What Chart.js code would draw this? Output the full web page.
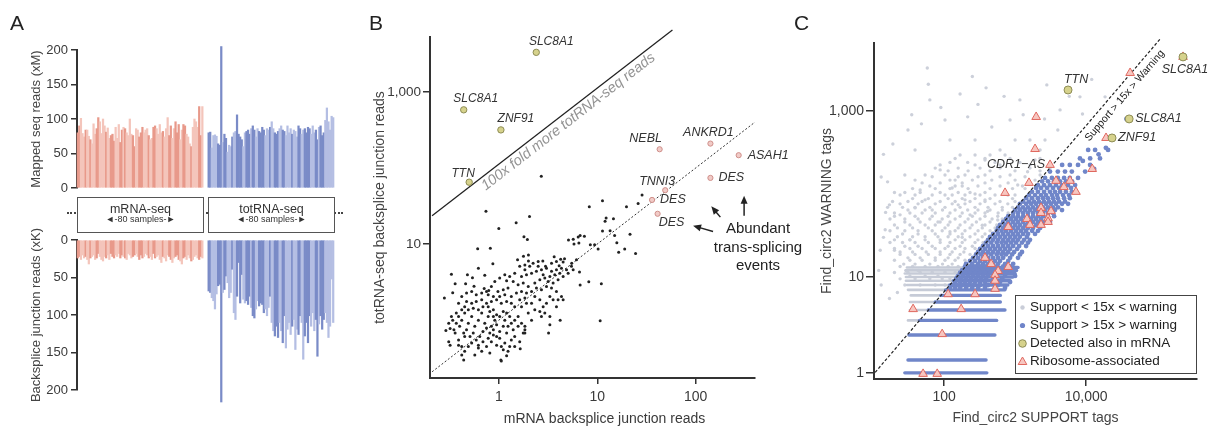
<!DOCTYPE html>
<html>
<head>
<meta charset="utf-8">
<title>circRNA detection: mRNA-seq vs totRNA-seq</title>
<script src="https://cdn.jsdelivr.net/npm/chart.js@4.4.1/dist/chart.umd.min.js"></script>
<style>
  body { margin: 0; background: #fff; }
  #page { position: relative; width: 1213px; height: 432px; overflow: hidden; font-family: 'Liberation Sans', Arial, sans-serif; }
  canvas { position: absolute; left: 0; top: 0; }
  .letter { position: absolute; top: 12px; font-size: 21px; line-height: 1; color: #222; }
  #dots { position: absolute; left: 67px; top: 212px; width: 276px; border-top: 2px dotted #444; }
  .box { position: absolute; top: 197px; width: 127px; height: 36px; box-sizing: border-box; border: 1px solid #555; background: #fff; }
  .boxt { position: absolute; width: 127px; text-align: center; line-height: 1; color: #333; }
</style>
</head>
<body>
<div id="page">
  <canvas id="aTop" width="1213" height="432"></canvas>
  <canvas id="aBottom" width="1213" height="432"></canvas>
  <canvas id="bChart" width="1213" height="432"></canvas>
  <canvas id="cChart" width="1213" height="432"></canvas>

  <div class="letter" style="left:10px">A</div>
  <div class="letter" style="left:369px">B</div>
  <div class="letter" style="left:794px">C</div>

  <div id="dots"></div>
  <div class="box" style="left:77px"></div>
  <div class="box" style="left:208px"></div>
  <div class="boxt" style="left:77px;top:202.7px;font-size:12.5px">mRNA-seq</div>
  <div class="boxt" style="left:77px;top:215px;font-size:9px">◄-80 samples-►</div>
  <div class="boxt" style="left:208px;top:202.7px;font-size:12.5px">totRNA-seq</div>
  <div class="boxt" style="left:208px;top:215px;font-size:9px">◄-80 samples-►</div>
</div>

<script>
"use strict"

// ---------- panel A: per sample read counts ----------
const mrnaMapped = [80, 90, 101, 79, 74, 84, 84, 75, 70, 64, 93, 78, 86, 102, 96, 79, 100, 90, 81, 87,
  72, 76, 78, 68, 88, 72, 92, 66, 84, 88, 86, 80, 76, 100, 78, 76, 60, 86, 84, 74,
  80, 88, 80, 84, 86, 76, 70, 72, 88, 90, 86, 78, 92, 80, 82, 74, 86, 102, 76, 90,
  72, 86, 96, 80, 92, 70, 84, 92, 90, 78, 74, 64, 60, 88, 100, 96, 88, 118, 76, 118];
const totMapped = [80, 81, 58, 76, 77, 75, 64, 62, 205, 66, 78, 72, 52, 62, 60, 74, 80, 82, 106, 78,
  74, 70, 60, 80, 82, 84, 78, 86, 90, 84, 74, 86, 82, 80, 88, 84, 76, 86, 84, 88,
  96, 86, 80, 78, 82, 86, 90, 84, 82, 76, 90, 80, 86, 78, 84, 82, 74, 90, 86, 78,
  84, 86, 80, 88, 86, 78, 90, 80, 84, 70, 88, 90, 76, 80, 98, 116, 96, 84, 104, 102];
const mrnaBacksplice = [24, 22, 26, 20, 24, 22, 26, 32, 24, 22, 20, 26, 24, 18, 22, 26, 28, 22, 24, 20,
  26, 18, 22, 24, 20, 22, 18, 24, 20, 22, 24, 26, 18, 20, 24, 22, 20, 18, 22, 26,
  20, 24, 22, 18, 20, 24, 22, 26, 18, 24, 22, 20, 26, 30, 22, 24, 28, 20, 22, 26,
  30, 24, 22, 20, 26, 28, 32, 24, 22, 26, 20, 24, 28, 26, 22, 20, 24, 26, 22, 24];
const totBacksplice = [68, 70, 77, 81, 92, 72, 61, 59, 216, 70, 66, 48, 57, 77, 70, 39, 97, 106, 75, 30,
  84, 46, 79, 84, 81, 86, 75, 90, 101, 104, 92, 81, 88, 84, 86, 97, 92, 101, 90, 75,
  110, 121, 128, 115, 130, 110, 121, 137, 101, 144, 119, 110, 126, 115, 106, 146, 119, 126, 101, 110,
  159, 128, 110, 137, 101, 115, 97, 121, 106, 155, 112, 101, 119, 106, 97, 110, 130, 115, 52, 110];
const aTicks = [0, 50, 100, 150, 200];
// light / dark batches (run lengths, starting dark)
const mrnaRuns = [2, 3, 1, 2, 1, 3, 2, 4, 1, 2, 3, 3, 2, 1, 1, 4, 2, 2, 3, 3, 1, 2, 2, 4, 1, 3, 2, 2, 3, 2, 2, 3, 1, 4, 2, 2];
const totRuns = [2, 4, 3, 1, 2, 3, 1, 2, 4, 2, 3, 1, 2, 2, 4, 3, 1, 2, 3, 2, 2, 4, 1, 3, 2, 2, 4, 3, 2, 1, 3, 2];

// ---------- panel B: backsplice reads, [mRNA, totRNA] ----------
const bOtherReads = [
  [2.7,78],[0.74,27],[1.5,19],[2.05,23],[1.0,16],[1.8,12.5],[1.95,11.5],[8.3,31],[11.3,37],[19.8,31],
  [26,34],[28.5,44],[12.3,22],[14.6,21.5],[12,20],[11.3,14.8],[13.5,15],[15,13],[21.5,13.5],[16.5,7.8],
  [19,8.6],[24.5,7.5],[9.4,9.8],[10.2,8.6],[8.5,9.8],[5.1,11.3],[5.7,11.6],[6.4,12.4],[6.7,13],[7.4,12.7],
  [5.8,10],[6.5,10.3],[0.61,8.7],[0.82,8.8],[0.87,5.5],[0.62,4.8],[0.33,4.0],[0.48,3.95],[0.54,3.6],[0.72,3.9],
  [0.36,3.0],[0.46,3.0],[0.56,2.8],[0.28,1.95],[0.34,2.3],[0.71,2.6],[0.79,2.45],[1.2,3.3],[1.55,6.2],[1.78,6.9],
  [2.0,6.0],[2.0,7.2],[2.8,6.0],[3.65,6.8],[4.25,6.3],[4.65,6.4],[4.5,5.8],[4.1,5.2],[5.5,5.6],[6.6,4.3],
  [6.7,2.9],[8.2,3.2],[11,3.0],[10.7,0.98],[4.2,1.0],[3.3,0.87],[3.2,0.68],[1.65,0.42],[1.05,0.30],[1.06,0.29],
  [0.44,0.30],[1.2,0.34],[0.42,0.35],[0.32,0.47],[0.31,0.52],[0.29,0.73],[0.32,0.78],[15.8,10.4],
  [0.39,1.12],[0.42,1.0],[0.45,1.24],[0.49,0.91],[0.53,1.12],[0.57,0.83],[0.62,1.0],[0.67,1.24],[0.72,0.91],[0.78,1.12],
  [0.84,0.83],[0.91,1.0],[0.40,0.83],[0.44,0.68],[0.47,0.75],[0.51,0.61],[0.55,0.68],[0.59,0.55],[0.64,0.61],[0.69,0.71],
  [0.75,0.79],[0.81,0.68],[0.88,0.75],[0.95,0.87],[0.39,0.55],[0.36,0.68],[0.37,0.91],[0.34,1.0],[0.45,1.5],[0.49,1.37],
  [0.55,1.44],[0.62,1.37],[0.69,1.5],[0.78,1.5],[0.88,1.37],[0.95,1.18],[1.02,1.12],[1.11,1.3],[1.2,1.24],[1.29,1.12],
  [1.15,1.0],[1.24,0.83],[1.34,0.91],[1.45,1.0],[1.57,1.12],[1.7,0.91],[1.84,0.75],[1.77,0.68],[1.57,0.83],[1.4,0.75],
  [0.53,0.5],[0.62,0.43],[0.67,0.39],[0.75,0.45],[0.84,0.52],[1.02,0.58],[1.15,0.5],[1.06,0.45],[1.24,0.39],[1.29,0.45],
  [1.11,0.41],[0.42,0.45],[0.45,0.39],[0.57,0.35],[0.62,0.47],[0.81,0.37],[0.39,0.47],[0.35,0.75],[0.37,1.24],[0.42,1.37],
  [0.47,1.76],[0.53,1.67],[0.59,1.76],[0.67,1.85],[0.75,1.67],[0.84,1.76],[0.95,1.85],[1.06,1.67],[1.2,1.76],[1.34,1.67],
  [1.45,1.5],[1.63,1.85],[1.84,1.95],[2.15,1.67],[2.32,2.05],[2.61,1.85],[2.82,1.5],[3.05,1.67],[3.3,2.05],[3.56,1.85],
  [3.85,1.5],[1.34,2.05],[1.15,2.16],[1.02,2.05],[0.88,2.05],[0.78,2.16],[1.51,2.27],[1.7,2.38],[1.91,2.27],[2.15,2.38],
  [2.41,2.64],[2.71,2.51],[3.05,2.77],[3.43,2.64],[3.85,2.38],[4.33,2.05],[4.0,1.85],[4.5,1.85],[2.32,3.07],[2.61,3.4],
  [2.93,3.57],[3.3,3.75],[3.7,3.95],[4.16,4.15],[1.99,2.77],[1.77,3.07],[1.57,2.92],[1.4,3.23],[1.24,2.64],[1.11,2.51],
  [0.98,2.38],[1.7,3.75],[1.91,3.95],[2.15,4.15],[2.41,4.4],[2.71,4.6],[3.05,4.8],[3.43,4.4],[3.85,4.6],[4.33,4.8],
  [4.87,4.6],[5.47,5.1],[1.84,4.6],[2.06,5.1],[2.51,5.1],[2.82,3.95],[3.17,3.23],[3.56,3.07],[4.0,3.4],[4.5,3.75],
  [5.06,4.15],[5.69,4.6],[6.15,6.2],[3.85,5.9],[3.43,5.6],[2.98,5.1],[2.51,5.9],[2.23,5.6],[1.84,5.3],[1.63,5.1],
  [1.45,4.15],[1.29,3.75],[1.15,3.95],[1.02,3.57],[0.91,3.23],[0.84,2.77],[0.75,2.38],[0.67,2.27],[0.59,2.16],[0.53,2.38],
  [0.47,2.27],[0.42,2.05],[1.45,0.61],[1.84,0.83],[2.15,1.0],[2.32,1.37],[2.61,1.3],[2.93,1.24],[3.3,1.12],[1.99,1.24],
  [2.71,1.12],[1.7,1.5],[1.91,1.67],[0.88,1.12],[0.81,1.3],[0.33,1.12],[0.31,0.91],[0.39,1.67],[1.11,0.83],[1.02,0.71],
  [0.95,0.61],[1.2,0.68],[1.34,0.55],[1.45,0.45],[1.63,0.52],[1.84,0.68],[0.45,0.61],[0.49,0.45],[0.69,0.52],[0.78,0.58],
  [0.88,0.64],[0.95,0.47]
];
const bAlsoInMrna = [[2.4, 3300], [0.44, 580], [1.05, 316], [0.5, 65]];
const bAlsoInMrnaNames = ['SLC8A1', 'SLC8A1', 'ZNF91', 'TTN'];
const bTransSplice = [[43, 176], [141, 209], [273, 147], [141, 74], [49, 51], [36, 38], [41, 25]];
const bTransSpliceNames = ['NEBL', 'ANKRD1', 'ASAH1', 'DES', 'TNNI3', 'DES', 'DES'];
const bFoldLine = [[0.21, 23.5], [58, 6500]];
const bEqualLine = [[0.21, 0.21], [400, 400]];
const bXTicks = [1, 10, 100];
const bXTickLabels = ['1', '10', '100'];
const bYTicks = [10, 1000];
const bYTickLabels = ['10', '1,000'];

// ---------- panel C: find_circ2 tags, [SUPPORT, WARNING] ----------
const cLowSupport = [
  [58,3300],[168,1600],[390,1900],[2800,2060],[8200,1480],[18500,1480],[8900,920],[4000,590],[614,339],[377,257],
  [273,447],[103,779],[39,339],[28,169],[17,74],[24,56],[46,112],[88,195],[143,147],[197,85],
  [850,780],[1620,447],[2250,339],[4300,1030],[1170,1360],[63,1360],[121,447],[33,28],[20,21],[16,140],
  [20,104],[31,590],[215,850],[470,640],[1000,447],[3100,240],[2640,447],[377,85],[12.6,21],[14.8,37],
  [14,300],[13,160],[15,60],[12,12],[13,8],[17,5.5],[14,30],[22,6.5],[19,400],[48,700],
  [90,1100],[300,1200],[700,1500],[1300,900],[2600,800],[5800,1500],[12000,2400],[250,2600],[60,2100],[35,900],
  [168,295],[273,295],[444,295],[722,295],[121,240],[215,240],[522,240],[1170,240],
  [75,205],[158,205],[321,205],[614,205],[1620,205],[54,169],[103,169],[197,169],[377,169],[850,169],
  [39,147],[121,147],[250,147],[470,147],[1000,147],[1910,147],[63,125],[143,125],[180,125],[300,125],[614,125],[1270,125],
  [28,104],[46,104],[88,104],[158,104],[232,104],[377,104],[722,104],[36,88],[60,88],[114,88],[180,88],[273,88],[444,88],[920,88],
  [24,76],[43,76],[75,76],[130,76],[197,76],[321,76],[522,76],[790,76],[31,64],[54,64],[95,64],[143,64],[215,64],[300,64],[444,64],[660,64],
  [20,54],[39,54],[68,54],[114,54],[168,54],[250,54],[377,54],[570,54],[28,46],[46,46],[82,46],[121,46],[197,46],[285,46],[444,46],
  [22,39],[36,39],[60,39],[103,39],[158,39],[232,39],[345,39],[522,39],[26,33],[43,33],[75,33],[121,33],[180,33],[273,33],[377,33],
  [20,28],[33,28],[54,28],[88,28],[143,28],[197,28],[300,28],[28,23.5],[43,23.5],[68,23.5],[114,23.5],[168,23.5],[250,23.5],
  [24,20],[36,20],[56,20],[88,20],[130,20],[190,20],[31,17],[46,17],[75,17],[114,17],[158,17],
  [27,14.3],[39,14.3],[63,14.3],[95,14.3],[130,14.3],[29,12],[43,12],[68,12],[103,12],[33,10.3],[54,10.3],[82,10.3],
  [103,97],[158,74],[232,56],[345,42],[121,35],[180,30],[88,46],[68,64],[54,85],[39,68],
  [130,118],[273,100],[410,62],[570,48.6],[790,97],[1090,128],[1500,185],[2250,169],[3100,205],[1910,257],
  [143,268],[377,268],[849,268],[2246,268],[88,224],[273,224],[614,224],[1624,224],
  [114,190],[218,190],[444,190],[998,190],[2246,190],[68,161],[158,161],[301,161],[614,161],[1381,161],
  [49,136],[88,136],[180,136],[377,136],[798,136],[1524,136],[36,116],[75,116],[121,116],[218,116],[444,116],[920,116],[1381,116],
  [24,97],[39,97],[68,97],[130,97],[197,97],[321,97],[522,97],[998,97],
  [18.8,81],[31,81],[49,81],[88,81],[143,81],[232,81],[377,81],[614,81],[998,81],
  [16,69],[26,69],[39,69],[63,69],[103,69],[168,69],[273,69],[416,69],[660,69],[920,69],
  [20,59],[33,59],[49,59],[75,59],[121,59],[180,59],[273,59],[377,59],[577,59],[798,59],
  [17.3,50],[28,50],[43,50],[63,50],[94,50],[143,50],[218,50],[321,50],[474,50],[660,50],
  [20,42.3],[33,42.3],[54,42.3],[75,42.3],[114,42.3],[168,42.3],[248,42.3],[377,42.3],[552,42.3],
  [17.3,36],[28,36],[43,36],[68,36],[94,36],[143,36],[197,36],[301,36],[444,36],
  [22,30.5],[36,30.5],[54,30.5],[82,30.5],[114,30.5],[158,30.5],[232,30.5],[345,30.5],
  [17.3,26],[26,26],[39,26],[60,26],[88,26],[121,26],[180,26],[273,26],[354,26],
  [20,22],[33,22],[49,22],[75,22],[103,22],[143,22],[197,22],[273,22],
  [24,18.7],[39,18.7],[60,18.7],[88,18.7],[121,18.7],[168,18.7],[232,18.7],
  [20,15.9],[33,15.9],[49,15.9],[75,15.9],[103,15.9],[143,15.9],[197,15.9],
  [24,13.4],[36,13.4],[54,13.4],[82,13.4],[114,13.4],[158,13.4],
  [20,11.3],[31,11.3],[46,11.3],[68,11.3],[103,11.3],[143,11.3],
  [24,9.5],[39,9.5],[63,9.5],[94,9.5],[121,9.5],[28,8.0],[46,8.0],[75,8.0],[103,8.0]
];
const cHighSupport = [
  [10700,339],[13400,339],[20400,339],[8200,268],[11400,268],[15700,268],[4600,224],[5900,224],[7700,224],[11400,224],
  [3100,186],[4000,186],[5050,186],[6300,186],[9700,186],[2640,156],[3300,156],[4000,156],[4900,156],[5900,156],[7700,156],
  [2400,142],[2910,142],[3535,142],[4296,142],[5218,142],[6340,142],
  [2100,128],[2560,128],[3100,128],[3770,128],[4580,128],[5570,128],[7000,128],
  [1973,118],[2320,118],[2820,118],[3422,118],[4160,118],[5052,118],[6140,118],
  [1730,106],[2100,106],[2560,106],[3100,106],[3650,106],[4300,106],[5200,106],[6300,106],
  [1570,97],[1910,97],[2320,97],[2728,97],[3313,97],[3900,97],[4730,97],[5750,97],
  [1430,89],[1730,89],[2100,89],[2480,89],[2900,89],[3420,89],[4000,89],[4900,89],[5900,89],
  [1296,81],[1570,81],[1850,81],[2170,81],[2557,81],[3010,81],[3535,81],[4160,81],[5052,81],
  [1170,76],[1430,76],[1680,76],[1970,76],[2320,76],[2730,76],[3200,76],[3770,76],[4580,76],[5570,76],
  [1103,69],[1296,69],[1524,69],[1790,69],[2106,69],[2476,69],[2911,69],[3422,69],[4026,69],
  [1000,64],[1170,64],[1380,64],[1620,64],[1910,64],[2250,64],[2640,64],[3100,64],[3650,64],[4580,64],
  [940,59],[1100,59],[1300,59],[1520,59],[1790,59],[2100,59],[2480,59],[2910,59],[3420,59],
  [800,54],[940,54],[1100,54],[1300,54],[1520,54],[1790,54],[2100,54],[2480,54],[2910,54],[3540,54],
  [746,50],[878,50],[1032,50],[1213,50],[1428,50],[1678,50],[1973,50],[2320,50],[2820,50],
  [680,46],[800,46],[940,46],[1100,46],[1300,46],[1520,46],[1790,46],[2100,46],[2560,46],[3100,46],
  [614,42.3],[722,42.3],[850,42.3],[1000,42.3],[1170,42.3],[1380,42.3],[1620,42.3],[1970,42.3],[2400,42.3],
  [577,39],[680,39],[800,39],[940,39],[1100,39],[1300,39],[1520,39],[1790,39],[2250,39],
  [552,36],[645,36],[746,36],[878,36],[1032,36],[1213,36],[1428,36],[1733,36],[2106,36],
  [490,33],[577,33],[680,33],[800,33],[940,33],[1100,33],[1300,33],[1520,33],[1910,33],
  [444,30.5],[522,30.5],[614,30.5],[722,30.5],[850,30.5],[1000,30.5],[1170,30.5],[1470,30.5],
  [416,28],[490,28],[577,28],[680,28],[800,28],[940,28],[1100,28],[1340,28],[1620,28],
  [390,26],[460,26],[552,26],[645,26],[746,26],[878,26],[1032,26],[1253,26],[1524,26],
  [354,23.6],[416,23.6],[490,23.6],[577,23.6],[680,23.6],[800,23.6],[940,23.6],[1140,23.6],[1430,23.6],
  [321,21.8],[377,21.8],[444,21.8],[522,21.8],[614,21.8],[722,21.8],[850,21.8],[1070,21.8],
  [301,20],[354,20],[416,20],[490,20],[577,20],[680,20],[800,20],[970,20],[1250,20],
  [282,18.7],[332,18.7],[390,18.7],[460,18.7],[552,18.7],[645,18.7],[746,18.7],[908,18.7],[1174,18.7],
  [256,17],[301,17],[354,17],[416,17],[490,17],[577,17],[680,17],[850,17],[1100,17],
  [232,15.6],[273,15.6],[321,15.6],[377,15.6],[444,15.6],[522,15.6],[614,15.6],[800,15.6],
  [204,14.4],[248,14.4],[301,14.4],[354,14.4],[416,14.4],[490,14.4],[577,14.4],[722,14.4],[940,14.4],
  [197,13.4],[232,13.4],[273,13.4],[321,13.4],[377,13.4],[444,13.4],[552,13.4],[679,13.4],[849,13.4],
  [180,12.1],[211,12.1],[248,12.1],[301,12.1],[354,12.1],[416,12.1],[490,12.1],[614,12.1],[850,12.1],
  [168,11.3],[197,11.3],[232,11.3],[273,11.3],[321,11.3],[377,11.3],[444,11.3],[560,11.3],[746,11.3],
  [158,10.3],[186,10.3],[218,10.3],[256,10.3],[301,10.3],[354,10.3],[416,10.3],[522,10.3],[722,10.3],[1000,10.3],
  [148,9.5],[174,9.5],[204,9.5],[240,9.5],[282,9.5],[332,9.5],[390,9.5],[490,9.5],[660,9.5],
  [143,8.7],[168,8.7],[197,8.7],[232,8.7],[273,8.7],[321,8.7],[377,8.7],[474,8.7],[614,8.7],[850,8.7],
  [130,8.0],[150,8.0],[180,8.0],[218,8.0],[265,8.0],[321,8.0],[416,8.0],[577,8.0],
  [121,7.4],[143,7.4],[168,7.4],[204,7.4],[248,7.4],[301,7.4],[377,7.4],[522,7.4],[722,7.4],
  [37000,800],[15000,300],[19000,360],[13000,200],[9000,250]
];
// rows of low WARNING counts: value, first SUPPORT, 15x cut, last SUPPORT
const cRowWarning = [0.7, 1, 2, 3, 4, 5, 6, 7, 8, 9, 10, 11, 12, 13];
const cRowStart = [28, 31, 32, 31, 33, 33, 34, 31, 30, 29, 29, 28, 29, 30];
const cRowCut = [28, 31, 32, 45, 60, 75, 90, 105, 120, 135, 150, 165, 180, 195];
const cRowEnd = [400, 390, 520, 550, 720, 620, 620, 720, 790, 850, 930, 1000, 1050, 1100];
const cRibosome = [
  [232000,4480],[41700,2870],[1980,847],[1910,348],[19100,473],[3106,224],[12200,200],[1570,136],[722,103],[3770,144],
  [4860,121],[5940,144],[7200,106],[2320,68],[3210,62],[2320,59],[2910,51],[2910,46],[1470,50],[1620,42.4],
  [2320,42.4],[800,40],[377,17],[460,14.3],[800,13.2],[577,11.8],[522,10.6],[522,9.0],[522,7.2],[114,6.2],
  [273,6.2],[36.6,4.1],[174,4.1],[94,2.05],[50.6,0.68],[80,0.68]
];
const cRibosomeNamed = { 5: 'CDR1\u2212AS' };
const cAlsoInMrna = [[5570, 1790], [40400, 802], [23200, 473], [232000, 4480]];
const cAlsoInMrnaNames = ['TTN', 'SLC8A1', 'ZNF91', 'SLC8A1'];
const cCutLine = [[10.7, 0.71], [110000, 7330]];
const cXTicks = [100, 10000];
const cXTickLabels = ['100', '10,000'];
const cYTicks = [0.7, 10, 1000];
const cYTickLabels = ['1', '10', '1,000'];
const cLegendLabels = ['Support < 15x < warning', 'Support > 15x > warning', 'Detected also in mRNA', 'Ribosome-associated'];

// ---------- shared look ----------
const FONT = "'Liberation Sans', Arial, Helvetica, sans-serif";
Chart.defaults.font.family = FONT;
Chart.defaults.font.size = 13;
Chart.defaults.color = '#3a3a3a';

const axisLine = { display: true, color: '#333', width: 2 };
const tickMarks = (len) => ({ display: true, drawOnChartArea: false, drawTicks: true, tickLength: len, color: '#333', lineWidth: 1.5 });
const fixWidth = (w) => (s) => { s.width = w; };
const fixHeight = (h) => (s) => { s.height = h; };
const setTicks = (vals) => (s) => { s.ticks = vals.map(v => ({ value: v })); };
const pts = (arr) => arr.map(p => ({ x: p[0], y: p[1] }));
const baseOptions = (pad) => ({
  responsive: false, animation: false, devicePixelRatio: 1,
  layout: { padding: pad },
  plugins: { legend: { display: false }, tooltip: { enabled: false } }
});

function shades(runs, dark, light, n) {
  const out = [];
  let isDark = true;
  runs.forEach(r => {
    for (let i = 0; i < r && out.length < n; i++) out.push(isDark ? dark : light);
    isDark = !isDark;
  });
  while (out.length < n) out.push(light);
  return out;
}

function tri(ctx, x, y, r) {
  ctx.beginPath();
  ctx.moveTo(x, y - r);
  ctx.lineTo(x + r * 0.866, y + r * 0.5);
  ctx.lineTo(x - r * 0.866, y + r * 0.5);
  ctx.closePath();
  ctx.fill();
  ctx.stroke();
}

function dot(ctx, x, y, r, stroke) {
  ctx.beginPath();
  ctx.arc(x, y, r, 0, Math.PI * 2);
  ctx.fill();
  if (stroke) ctx.stroke();
}

function arrow(ctx, x1, y1, x2, y2) {
  const a = Math.atan2(y2 - y1, x2 - x1);
  ctx.beginPath();
  ctx.moveTo(x1, y1);
  ctx.lineTo(x2 - 5 * Math.cos(a), y2 - 5 * Math.sin(a));
  ctx.stroke();
  ctx.beginPath();
  ctx.moveTo(x2, y2);
  ctx.lineTo(x2 - 8 * Math.cos(a) + 3.5 * Math.sin(a), y2 - 8 * Math.sin(a) - 3.5 * Math.cos(a));
  ctx.lineTo(x2 - 8 * Math.cos(a) - 3.5 * Math.sin(a), y2 - 8 * Math.sin(a) + 3.5 * Math.cos(a));
  ctx.closePath();
  ctx.fill();
}

// text along a line given by two data points, pushed off it by `off` px
function lineText(chart, line, at, text, off, font, color) {
  const { ctx, scales: { x, y } } = chart;
  const x1 = x.getPixelForValue(line[0][0]), y1 = y.getPixelForValue(line[0][1]);
  const x2 = x.getPixelForValue(line[1][0]), y2 = y.getPixelForValue(line[1][1]);
  const a = Math.atan2(y2 - y1, x2 - x1);
  const px = x.getPixelForValue(at[0]) - Math.sin(a) * off;
  const py = y.getPixelForValue(at[1]) + Math.cos(a) * off;
  ctx.save();
  ctx.translate(px, py);
  ctx.rotate(a);
  ctx.font = font;
  ctx.fillStyle = color;
  ctx.textAlign = 'center';
  ctx.textBaseline = 'middle';
  ctx.fillText(text, 0, 0);
  ctx.restore();
}

function pointLabels(chart, points, names, offsets, font) {
  const { ctx, scales: { x, y } } = chart;
  ctx.save();
  ctx.font = font;
  ctx.fillStyle = '#333';
  ctx.textBaseline = 'middle';
  points.forEach((p, i) => {
    if (!names[i]) return;
    const o = offsets[i];
    ctx.textAlign = o[2];
    ctx.fillText(names[i], x.getPixelForValue(p[0]) + o[0], y.getPixelForValue(p[1]) + o[1]);
  });
  ctx.restore();
}

// ---------- panel A ----------
const gap = [null, null, null];
const aSamples = [
  ...mrnaMapped.map((_, i) => 'mRNA ' + (i + 1)), '', ' ', '  ',
  ...totMapped.map((_, i) => 'totRNA ' + (i + 1))
];
const mrnaColors = shades(mrnaRuns, '#e8998a', '#f4c5bb', 80);
const totColors = shades(totRuns, '#7a8bc7', '#b4bee3', 80);
const aColors = [...mrnaColors, '#fff', '#fff', '#fff', ...totColors];

function barChart(id, values, pad, title, reverse) {
  return new Chart(document.getElementById(id), {
    type: 'bar',
    data: {
      labels: aSamples,
      datasets: [{ data: values, backgroundColor: aColors, barPercentage: 1, categoryPercentage: 1, clip: false }]
    },
    options: Object.assign(baseOptions(pad), {
      scales: {
        x: { display: false },
        y: {
          min: 0, max: 200, reverse: reverse,
          afterFit: fixWidth(52), afterBuildTicks: setTicks(aTicks),
          border: axisLine, grid: tickMarks(6),
          ticks: { padding: 3, font: { size: 13 } },
          title: { display: true, text: title, color: '#444', font: { size: 13 } }
        }
      }
    })
  });
}

barChart('aTop', [...mrnaMapped, ...gap, ...totMapped],
  { left: 25, top: 50, right: 879, bottom: 244 }, 'Mapped seq reads (xM)', false);
barChart('aBottom', [...mrnaBacksplice, ...gap, ...totBacksplice],
  { left: 25, top: 240, right: 879, bottom: 42 }, 'Backsplice junction reads (xK)', true);

// ---------- panel B ----------
const bFoundOffsets = [[15, -11, 'center'], [12, -11, 'center'], [15, -11, 'center'], [-6, -9, 'center']];
const bTransOffsets = [[-14, -11, 'center'], [-2, -11, 'center'], [9, 0, 'left'], [8, 0, 'left'],
  [-8, -9, 'center'], [8, 0, 'left'], [14, 9, 'center']];

const bNotes = {
  id: 'bNotes',
  afterDatasetsDraw(chart) {
    const { ctx, scales: { x, y }, chartArea } = chart;
    pointLabels(chart, bAlsoInMrna, bAlsoInMrnaNames, bFoundOffsets, `italic 12px ${FONT}`);
    pointLabels(chart, bTransSplice, bTransSpliceNames, bTransOffsets, `italic 12.5px ${FONT}`);
    lineText(chart, bFoldLine, [4.47, 500], '100x fold more totRNA-seq reads', 9, `italic 14.5px ${FONT}`, '#939393');

    ctx.save();
    ctx.fillStyle = '#222';
    ctx.strokeStyle = '#222';
    ctx.lineWidth = 1.5;
    const P = (vx, vy) => [x.getPixelForValue(vx), y.getPixelForValue(vy)];
    let a = P(150, 14.6), b = P(94, 17.4);
    arrow(ctx, a[0], a[1], b[0], b[1]);
    a = P(178, 22.6); b = P(144, 31.3);
    arrow(ctx, a[0], a[1], b[0], b[1]);
    a = P(310, 23.6); b = P(310, 43);
    arrow(ctx, a[0], a[1], b[0], b[1]);

    ctx.font = `15px ${FONT}`;
    ctx.textAlign = 'center';
    ctx.textBaseline = 'middle';
    const t = P(400, 16);
    ctx.fillText('Abundant', t[0] + 3, t[1]);
    ctx.fillText('trans-splicing', t[0] + 3, t[1] + 19);
    ctx.fillText('events', t[0] + 3, t[1] + 37.5);

    ctx.fillStyle = '#3a3a3a';
    ctx.font = `14px ${FONT}`;
    ctx.fillText('mRNA backsplice junction reads', (chartArea.left + chartArea.right) / 2 + 12, 419);
    ctx.restore();
  }
};

new Chart(document.getElementById('bChart'), {
  type: 'scatter',
  data: {
    datasets: [
      { data: pts(bAlsoInMrna), pointRadius: 3.2, backgroundColor: '#d6d28c', borderColor: '#8d8c55', borderWidth: 1, order: 0 },
      { data: pts(bTransSplice), pointRadius: 2.6, backgroundColor: '#f1cbc7', borderColor: '#cf8f8a', borderWidth: 1, order: 1 },
      { data: pts(bOtherReads), pointRadius: 1.5, backgroundColor: '#222', borderWidth: 0, order: 2 },
      { data: pts(bFoldLine), showLine: true, pointRadius: 0, borderColor: '#222', borderWidth: 1.3, clip: false, order: 3 },
      { data: pts(bEqualLine), showLine: true, pointRadius: 0, borderColor: '#333', borderWidth: 1, borderDash: [2, 2], clip: false, order: 3 }
    ]
  },
  options: Object.assign(baseOptions({ left: 368, top: 37, right: 458, bottom: 1 }), {
    scales: {
      x: {
        type: 'logarithmic', min: 0.2, max: 400, bounds: 'data',
        afterFit: fixHeight(53), afterBuildTicks: setTicks(bXTicks),
        border: axisLine, grid: tickMarks(6),
        ticks: { callback: (v, i) => bXTickLabels[i], padding: 5, maxRotation: 0, autoSkip: false, font: { size: 14 } }
      },
      y: {
        type: 'logarithmic', min: 0.174, max: 5250, bounds: 'data',
        afterFit: fixWidth(62), afterBuildTicks: setTicks(bYTicks),
        border: axisLine, grid: tickMarks(7),
        ticks: { callback: (v, i) => bYTickLabels[i], padding: 2, autoSkip: false, font: { size: 13.5 } },
        title: { display: true, text: 'totRNA-seq backsplice junction reads', color: '#444', font: { size: 14 } }
      }
    }
  }),
  plugins: [bNotes]
});

// ---------- panel C ----------
const cFoundOffsets = [[8, -10, 'center'], [6, 0, 'left'], [6, 0, 'left'], [2, 13, 'center']];
const cRiboOffsets = { 5: [-5, 0, 'right'] };

const cNotes = {
  id: 'cNotes',
  afterDatasetsDraw(chart) {
    const { ctx, chartArea } = chart;
    pointLabels(chart, cAlsoInMrna, cAlsoInMrnaNames, cFoundOffsets, `italic 12.5px ${FONT}`);
    pointLabels(chart, cRibosome, cRibosome.map((_, i) => cRibosomeNamed[i]),
      cRibosome.map((_, i) => cRiboOffsets[i] || [0, 0, 'left']), `italic 12.5px ${FONT}`);
    lineText(chart, cCutLine, [27400, 1827], 'Support > 15x > Warning', 10, `10.5px ${FONT}`, '#222');

    // legend box
    const L = chartArea.right - 182, T = chartArea.bottom - 84, W = 182, H = 79;
    ctx.save();
    ctx.fillStyle = '#fff';
    ctx.fillRect(L, T, W, H);
    ctx.strokeStyle = '#444';
    ctx.lineWidth = 1;
    ctx.strokeRect(L + 0.5, T + 0.5, W - 1, H - 1);
    const rowY = (i) => T + 12.5 + i * 18;
    ctx.fillStyle = '#c9cdd8'; dot(ctx, L + 7.5, rowY(0), 2.2, false);
    ctx.fillStyle = '#6f84c9'; dot(ctx, L + 7.5, rowY(1), 2.6, false);
    ctx.fillStyle = '#d6d28c'; ctx.strokeStyle = '#8d8c55'; dot(ctx, L + 7.5, rowY(2), 3.8, true);
    ctx.fillStyle = '#f7c6c0'; ctx.strokeStyle = '#e0685f'; tri(ctx, L + 7.5, rowY(3) + 0.5, 5);
    ctx.fillStyle = '#222';
    ctx.font = `13.5px ${FONT}`;
    ctx.textAlign = 'left';
    ctx.textBaseline = 'middle';
    cLegendLabels.forEach((t, i) => ctx.fillText(t, L + 15, rowY(i)));
    ctx.restore();
  }
};

const cRows = [];
cRowWarning.forEach((w, i) => {
  if (cRowCut[i] > cRowStart[i]) {
    cRows.push({ data: [{ x: cRowStart[i], y: w }, { x: cRowCut[i], y: w }], showLine: true, pointRadius: 0,
      borderColor: '#c6cbd7', borderWidth: 2.6, borderCapStyle: 'round', order: 5 });
  }
  cRows.push({ data: [{ x: cRowCut[i], y: w }, { x: cRowEnd[i], y: w }], showLine: true, pointRadius: 0,
    borderColor: '#7086c9', borderWidth: 3.4, borderCapStyle: 'round', order: 3 });
});

new Chart(document.getElementById('cChart'), {
  type: 'scatter',
  data: {
    datasets: [
      { data: pts(cAlsoInMrna), pointRadius: 4, backgroundColor: '#d6d28c', borderColor: '#8d8c55', borderWidth: 1, order: 0, clip: false },
      { data: pts(cRibosome), pointStyle: 'triangle', pointRadius: 5, backgroundColor: '#f7c6c0', borderColor: '#e0685f', borderWidth: 1, order: 1, clip: false },
      { data: pts(cCutLine), showLine: true, pointRadius: 0, borderColor: '#222', borderWidth: 1.2, borderDash: [3, 2], clip: false, order: 1.5 },
      { data: pts(cHighSupport), pointRadius: 2.4, backgroundColor: '#7086c9', borderWidth: 0, order: 2 },
      ...cRows,
      { data: pts(cLowSupport), pointRadius: 1.7, backgroundColor: '#ccd0da', borderWidth: 0, order: 6 }
    ]
  },
  options: Object.assign(baseOptions({ left: 815, top: 43, right: 16, bottom: 1 }), {
    scales: {
      x: {
        type: 'logarithmic', min: 10.3, max: 365000, bounds: 'data',
        afterFit: fixHeight(52), afterBuildTicks: setTicks(cXTicks),
        border: axisLine, grid: tickMarks(7),
        ticks: { callback: (v, i) => cXTickLabels[i], padding: 3, maxRotation: 0, autoSkip: false, font: { size: 14 } },
        title: { display: true, text: 'Find_circ2 SUPPORT tags', color: '#444', font: { size: 14 } }
      },
      y: {
        type: 'logarithmic', min: 0.59, max: 6590, bounds: 'data',
        afterFit: fixWidth(59), afterBuildTicks: setTicks(cYTicks),
        border: axisLine, grid: tickMarks(8),
        ticks: { callback: (v, i) => cYTickLabels[i], padding: 2, autoSkip: false, font: { size: 14 } },
        title: { display: true, text: 'Find_circ2 WARNING tags', color: '#444', font: { size: 14 } }
      }
    }
  }),
  plugins: [cNotes]
});
</script>
</body>
</html>
